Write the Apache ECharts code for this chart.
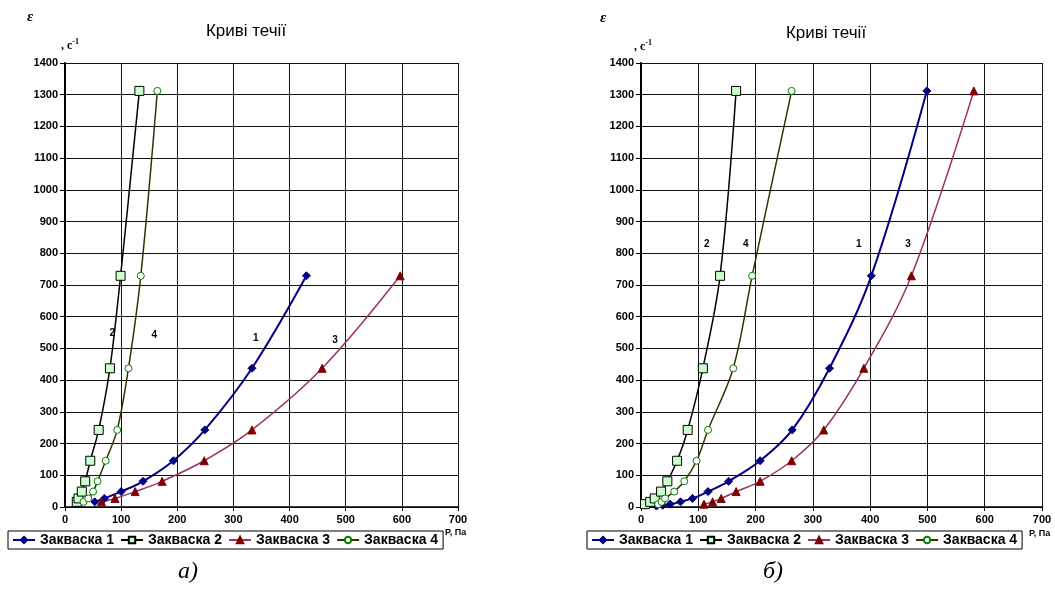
<!DOCTYPE html>
<html>
<head>
<meta charset="utf-8">
<script src="https://cdn.jsdelivr.net/npm/echarts@6/dist/echarts.min.js"></script>
<style>
  html, body { margin: 0; padding: 0; background: #fff; }
  #chart { width: 1055px; height: 601px; }
</style>
</head>
<body>
<div id="chart"></div>
<script>
// швидкості зсуву (с^-1), спільні для всіх кривих
const rates = [1312, 729, 437.4, 243, 145.8, 81, 48.6, 27, 16.2, 9, 5.4, 3];

// а) напруження зсуву P, Па
const leftX1 = [430, 333, 249, 193, 139, 100, 70, 53];
const leftR1 = rates.slice(1, 9);
const leftX2 = [132.5, 99, 80, 60, 45, 36, 30, 24, 21];
const leftR2 = rates.slice(0, 9);
const leftX3 = [597, 458, 333, 248, 173, 125, 89, 65];
const leftR3 = rates.slice(1, 9);
const leftX4 = [164.5, 135, 113, 93, 72.5, 58, 50, 41.5, 33];
const leftR4 = rates.slice(0, 9);

// б)
const rightX1 = [499, 402, 329, 264, 208, 153, 117, 90, 69, 51, 38, 27];
const rightR1 = rates.slice(0, 12);
const rightX2 = [166, 138, 108, 81.5, 63, 46, 35, 24, 16, 7];
const rightR2 = rates.slice(0, 10);
const rightX3 = [581, 472, 389, 319, 263, 208, 166, 140, 125, 110];
const rightR3 = rates.slice(0, 10);
const rightX4 = [263, 194, 161, 117, 97, 75.5, 58, 42, 36, 30];
const rightR4 = rates.slice(0, 10);

const names = ["Закваска 1", "Закваска 2", "Закваска 3", "Закваска 4"];
// підписи номерів кривих [x, y]
const leftTags = [[340, 533], [84, 549], [481, 527], [159, 543]];
const rightTags = [[380, 830], [115, 830], [466, 830], [183, 830]];

const pairs = (xs, ys) => xs.map((x, i) => [x, ys[i]]).reverse();

const styles = [
  { line: "#000080", symbol: "diamond", size: 8, fill: "#000080", border: "#000080", w: 2 },
  { line: "#000000", symbol: "rect", size: 9, fill: "#ccffcc", border: "#000000", w: 1.5 },
  { line: "#993366", symbol: "triangle", size: 8, fill: "#800000", border: "#800000", w: 1.5 },
  { line: "#333300", symbol: "circle", size: 7, fill: "#ffffff", border: "#008000", w: 1.5 },
];

const makeSeries = (idx, data, tag, axis) => {
  const s = styles[idx];
  return {
    name: names[idx],
    type: "line",
    xAxisIndex: axis,
    yAxisIndex: axis,
    data: data,
    smooth: 0.35,
    symbol: s.symbol,
    symbolSize: s.size,
    showAllSymbol: true,
    lineStyle: { color: s.line, width: s.w },
    itemStyle: { color: s.fill, borderColor: s.border, borderWidth: 1 },
    markPoint: {
      symbol: "circle",
      symbolSize: 1,
      itemStyle: { color: "transparent" },
      label: {
        show: true,
        formatter: String(idx + 1),
        color: "#000",
        fontSize: 10,
        fontWeight: "bold",
        fontFamily: "Arial",
      },
      data: [{ coord: tag }],
    },
    z: 3,
  };
};

const axisLabel = {
  color: "#000",
  fontSize: 11,
  fontWeight: "bold",
  fontFamily: "Arial",
  margin: 7,
  formatter: (v) => String(v),
};
const splitLine = { show: true, lineStyle: { color: "#111", width: 1 } };

const xAxisOf = (grid) => ({
  type: "value",
  gridIndex: grid,
  min: 0,
  max: 700,
  interval: 100,
  axisLine: { show: true, onZero: false, lineStyle: { color: "#000", width: 1.5 } },
  axisTick: { show: true, length: 4, lineStyle: { color: "#000" } },
  axisLabel: axisLabel,
  splitLine: splitLine,
});

const yAxisOf = (grid) => ({
  type: "value",
  gridIndex: grid,
  min: 0,
  max: 1400,
  interval: 100,
  axisLine: { show: true, onZero: false, lineStyle: { color: "#000", width: 2 } },
  axisTick: { show: true, length: 5, lineStyle: { color: "#000" } },
  axisLabel: axisLabel,
  splitLine: splitLine,
});

const legendOf = (left) => ({
  left: left,
  top: 531,
  orient: "horizontal",
  data: names,
  itemWidth: 22,
  itemHeight: 8,
  itemGap: 6,
  padding: [2, 5, 2, 4],
  borderColor: "#000",
  borderWidth: 1,
  selectedMode: false,
  textStyle: { color: "#000", fontSize: 14, fontWeight: "bold", fontFamily: "Arial" },
});

const txt = (x, y, text, style) => ({
  type: "text",
  left: x,
  top: y,
  style: Object.assign({ text: text, fill: "#000", fontFamily: "Arial" }, style),
});

const unit = (x, y) => ({
  type: "text",
  left: x,
  top: y,
  style: {
    text: "{a|, с}{b|-1}",
    rich: {
      a: { fontFamily: "Times New Roman, Liberation Serif, serif", fontWeight: "bold", fontSize: 12, fill: "#000" },
      b: { fontFamily: "Times New Roman, Liberation Serif, serif", fontWeight: "bold", fontSize: 8, fill: "#000", verticalAlign: "top", padding: [0, 0, 8, 0] },
    },
  },
});

const titleStyle = { fontSize: 17, fontWeight: "normal", fontFamily: "Arial", color: "#000" };

const myChart = echarts.init(document.getElementById("chart"));
myChart.setOption({
  animation: false,
  backgroundColor: "#fff",
  title: [
    { text: "Криві течії", left: 241, top: 18, textAlign: "center", textStyle: titleStyle },
    { text: "Криві течії", left: 821, top: 20, textAlign: "center", textStyle: titleStyle },
  ],
  legend: [legendOf(8), legendOf(587)],
  grid: [
    { left: 65, top: 63, width: 393, height: 444 },
    { left: 641, top: 63, width: 401, height: 444 },
  ],
  xAxis: [xAxisOf(0), xAxisOf(1)],
  yAxis: [yAxisOf(0), yAxisOf(1)],
  series: [
    makeSeries(0, pairs(leftX1, leftR1), leftTags[0], 0),
    makeSeries(1, pairs(leftX2, leftR2), leftTags[1], 0),
    makeSeries(2, pairs(leftX3, leftR3), leftTags[2], 0),
    makeSeries(3, pairs(leftX4, leftR4), leftTags[3], 0),
    makeSeries(0, pairs(rightX1, rightR1), rightTags[0], 1),
    makeSeries(1, pairs(rightX2, rightR2), rightTags[1], 1),
    makeSeries(2, pairs(rightX3, rightR3), rightTags[2], 1),
    makeSeries(3, pairs(rightX4, rightR4), rightTags[3], 1),
  ],
  graphic: [
    txt(27, 10, "ε", { fontFamily: "Times New Roman, Liberation Serif, serif", fontStyle: "italic", fontWeight: "bold", fontSize: 15 }),
    txt(600, 11, "ε", { fontFamily: "Times New Roman, Liberation Serif, serif", fontStyle: "italic", fontWeight: "bold", fontSize: 15 }),
    unit(61, 38),
    unit(634, 39),
    txt(445, 528, "Р, Па", { fontSize: 9, fontWeight: "bold" }),
    txt(1029, 529, "Р, Па", { fontSize: 9, fontWeight: "bold" }),
    txt(178, 560, "а)", { fontFamily: "Times New Roman, Liberation Serif, serif", fontStyle: "italic", fontSize: 24 }),
    txt(763, 560, "б)", { fontFamily: "Times New Roman, Liberation Serif, serif", fontStyle: "italic", fontSize: 24 }),
  ],
});
</script>
</body>
</html>
